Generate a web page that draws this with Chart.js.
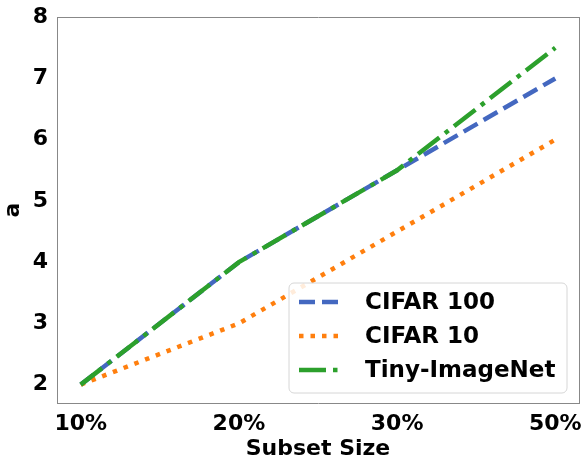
<!DOCTYPE html>
<html>
<head>
<meta charset="utf-8">
<script src="https://cdn.jsdelivr.net/npm/chart.js@4.4.0/dist/chart.umd.min.js"></script>
<style>
  html, body { margin: 0; padding: 0; background: #fff; }
  #wrap { width: 585px; height: 460px; }
</style>
</head>
<body>
<div id="wrap"><canvas id="chart" width="585" height="460"></canvas></div>
<script>
// ── Datos ──
const categories = ['10%', '20%', '30%', '50%'];
const cifar100   = [2, 4, 5.5, 7];
const cifar10    = [2, 3, 4.5, 6];
const tinyImgNet = [2, 4, 5.5, 7.5];
const yTicks     = [2, 3, 4, 5, 6, 7, 8];

const FONT = 'DejaVu Sans';
const series = [
  { label: 'CIFAR 100',     data: cifar100,   color: '#4468c0', dash: [16, 7],          order: 2 },
  { label: 'CIFAR 10',      data: cifar10,    color: '#ff7f0e', dash: [4.5, 7],         order: 1 },
  { label: 'Tiny-ImageNet', data: tinyImgNet, color: '#2ca02c', dash: [27, 7, 4.5, 7],  order: 0 }
];

// ── Leyenda dentro del área de la gráfica ──
const legendInside = {
  id: 'legendInside',
  afterDraw(chart) {
    const ctx = chart.ctx;
    const x0 = 289, y0 = 283, w = 278, h = 110, r = 5;
    ctx.save();
    ctx.beginPath();
    ctx.roundRect(x0, y0, w, h, r);
    ctx.fillStyle = 'rgba(255,255,255,0.85)';
    ctx.fill();
    ctx.strokeStyle = '#d6d6d6';
    ctx.lineWidth = 1;
    ctx.stroke();
    series.forEach((s, i) => {
      const y = 302 + i * 34;
      ctx.beginPath();
      ctx.setLineDash(s.dash);
      ctx.lineCap = 'butt';
      ctx.strokeStyle = s.color;
      ctx.lineWidth = 4.5;
      ctx.moveTo(299, y);
      ctx.lineTo(343, y);
      ctx.stroke();
      ctx.setLineDash([]);
      ctx.fillStyle = '#000';
      ctx.font = `bold 23px "${FONT}"`;
      ctx.textBaseline = 'middle';
      ctx.fillText(s.label, 365, y + 1);
    });
    ctx.restore();
  }
};

new Chart(document.getElementById('chart'), {
  type: 'line',
  data: {
    datasets: series.map(s => ({
      label: s.label,
      data: s.data.map((v, i) => ({ x: i, y: v })),
      borderColor: s.color,
      borderDash: s.dash,
      borderWidth: 4.5,
      borderCapStyle: 'butt',
      pointRadius: 0,
      fill: false,
      tension: 0,
      order: s.order
    }))
  },
  options: {
    responsive: false,
    animation: false,
    layout: { padding: { top: 15, right: 6, left: 0, bottom: 0 } },
    plugins: { legend: { display: false }, tooltip: { enabled: false } },
    scales: {
      x: {
        type: 'linear',
        min: -0.15,
        max: 3.15,
        afterBuildTicks: axis => { axis.ticks = categories.map((c, i) => ({ value: i })); },
        afterFit: axis => { axis.height = 57; },
        ticks: {
          callback: v => categories[v],
          color: '#000',
          font: { family: FONT, size: 22, weight: 'bold' },
          padding: 3,
          maxRotation: 0,
          autoSkip: false
        },
        grid: { display: false, drawOnChartArea: false, drawTicks: true, tickLength: 5, tickColor: '#666' },
        border: { display: true, color: '#888', width: 1 },
        title: {
          display: true,
          text: 'Subset Size',
          color: '#000',
          font: { family: FONT, size: 22, weight: 'bold', lineHeight: 1.0 },
          padding: { top: 0, bottom: 0 }
        }
      },
      y: {
        min: 1.7,
        max: 8,
        afterBuildTicks: axis => { axis.ticks = yTicks.map(v => ({ value: v })); },
        afterFit: axis => { axis.width = 57; },
        ticks: {
          color: '#000',
          font: { family: FONT, size: 22, weight: 'bold' },
          padding: 4
        },
        grid: { display: false, drawOnChartArea: false, drawTicks: true, tickLength: 5, tickColor: '#666' },
        border: { display: true, color: '#888', width: 1 },
        title: {
          display: true,
          text: 'a',
          color: '#000',
          font: { family: FONT, size: 22, weight: 'bold' },
          padding: { top: 0, bottom: 0 }
        }
      },
      x2: {
        type: 'linear', position: 'top', min: 0, max: 1,
        ticks: { display: false },
        grid: { display: false, drawTicks: false },
        border: { display: true, color: '#888', width: 1 },
        afterFit: axis => { axis.height = 0; }
      },
      y2: {
        type: 'linear', position: 'right', min: 0, max: 1,
        ticks: { display: false },
        grid: { display: false, drawTicks: false },
        border: { display: true, color: '#888', width: 1 },
        afterFit: axis => { axis.width = 0; }
      }
    }
  },
  plugins: [legendInside]
});
</script>
</body>
</html>
